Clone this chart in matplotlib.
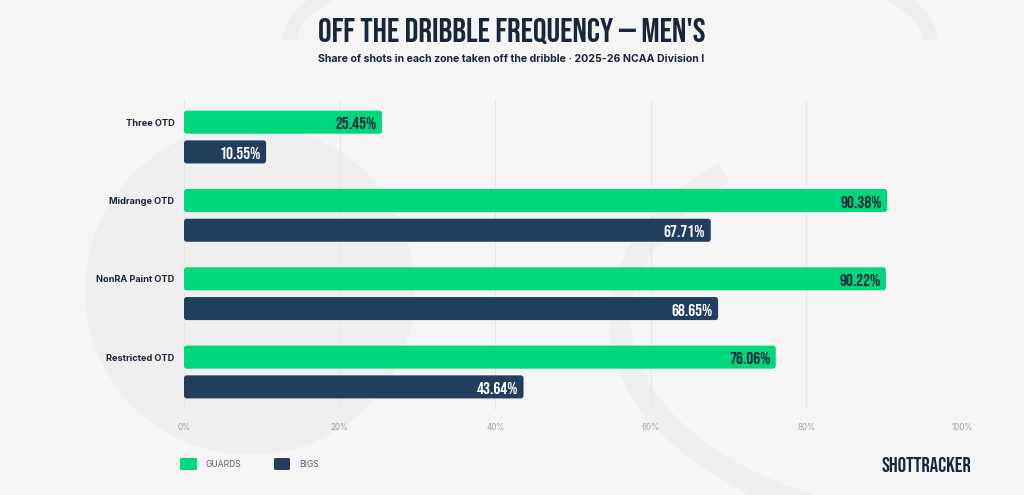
import matplotlib.pyplot as plt
from matplotlib.patches import FancyBboxPatch, Ellipse, Arc

zones = ["Three OTD", "Midrange OTD", "NonRA Paint OTD", "Restricted OTD"]
guards = [25.45, 90.38, 90.22, 76.06]
bigs = [10.55, 67.71, 68.65, 43.64]
ticks = [0, 20, 40, 60, 80, 100]
tick_labels = ["0%", "20%", "40%", "60%", "80%", "100%"]

GREEN = "#00d67b"
NAVY = "#213e5f"
INK = "#17263a"
BG = "#f5f5f5"

cond = ["Bebas Neue", "Oswald", "DejaVu Sans"]
sans = ["Inter", "DejaVu Sans"]

fig = plt.figure(figsize=(10.24, 4.95), dpi=100)
fig.patch.set_facecolor(BG)

# faint hoop / net shapes in the background
bg = fig.add_axes([0, 0, 1, 1], zorder=0)
bg.set_xlim(0, 1024)
bg.set_ylim(495, 0)
bg.axis("off")
bg.add_patch(Ellipse((250, 290), 330, 330, color="#efefef", lw=0))
bg.add_patch(Arc((610, 40), 640, 190, theta1=180, theta2=360, color="#eeeeee", lw=10))
bg.add_patch(Arc((980, 320), 720, 420, theta1=105, theta2=210, color="#efefef", lw=16))

ax = fig.add_axes([184 / 1024, 85 / 495, 778 / 1024, 310 / 495], zorder=1)
ax.set_facecolor("none")
ax.set_xlim(0, 100)
ax.set_ylim(3.485, -0.473)
for s in ax.spines.values():
    s.set_visible(False)

off = 0.19
h = 0.294
aspect = (1 / 78.3) / (1 / 7.78)

for i, (g, b) in enumerate(zip(guards, bigs)):
    for val, yc, col, tcol in [(g, i - off, GREEN, INK), (b, i + off, NAVY, "white")]:
        p = FancyBboxPatch((0, yc - h / 2), val, h,
                           boxstyle="round,pad=0,rounding_size=0.35",
                           mutation_aspect=aspect, fc=col, ec="none", zorder=3)
        ax.add_patch(p)
        ax.text(val - 0.7, yc + 0.015, f"{val:.2f}%", ha="right", va="center",
                color=tcol, fontsize=12.5, family=cond, zorder=4)

ax.set_yticks([i - off for i in range(len(zones))])
ax.set_yticklabels(zones, family=sans, fontsize=6.6, fontweight="bold", color=INK)
ax.tick_params(axis="y", length=0, pad=7)

ax.set_xticks(ticks)
ax.set_xticklabels(tick_labels, family=sans, fontsize=5.8, color="#9ea4aa")
ax.tick_params(axis="x", length=0, pad=9)
ax.grid(axis="x", color="#e6e6e6", lw=0.7, zorder=1)
ax.set_axisbelow(True)

fig.text(512 / 1024, 1 - 31 / 495, "OFF THE DRIBBLE FREQUENCY — MEN'S", ha="center", va="center",
         family=cond, fontsize=24.5, color=INK)
fig.text(511 / 1024, 1 - 59 / 495, "Share of shots in each zone taken off the dribble · 2025-26 NCAA Division I",
         ha="center", va="center", family=sans, fontweight="bold", fontsize=7.6, color=INK)

# legend
fig.patches.append(FancyBboxPatch((180 / 1024, 1 - 470 / 495), 17 / 1024, 12 / 495,
                                  boxstyle="round,pad=0,rounding_size=0.002",
                                  transform=fig.transFigure, fc=GREEN, ec="none"))
fig.text(206 / 1024, 1 - 464.5 / 495, "GUARDS", ha="left", va="center", family=sans,
         fontsize=6.2, color="#5b6470")
fig.patches.append(FancyBboxPatch((274 / 1024, 1 - 470 / 495), 16 / 1024, 12 / 495,
                                  boxstyle="round,pad=0,rounding_size=0.002",
                                  transform=fig.transFigure, fc=NAVY, ec="none"))
fig.text(299 / 1024, 1 - 464.5 / 495, "BIGS", ha="left", va="center", family=sans,
         fontsize=6.2, color="#5b6470")

fig.text(971 / 1024, 1 - 464.5 / 495, "SHOTTRACKER", ha="right", va="center", family=cond,
         style="italic", fontsize=15, color=INK)

fig.savefig("out.png", dpi=100, facecolor=BG)
